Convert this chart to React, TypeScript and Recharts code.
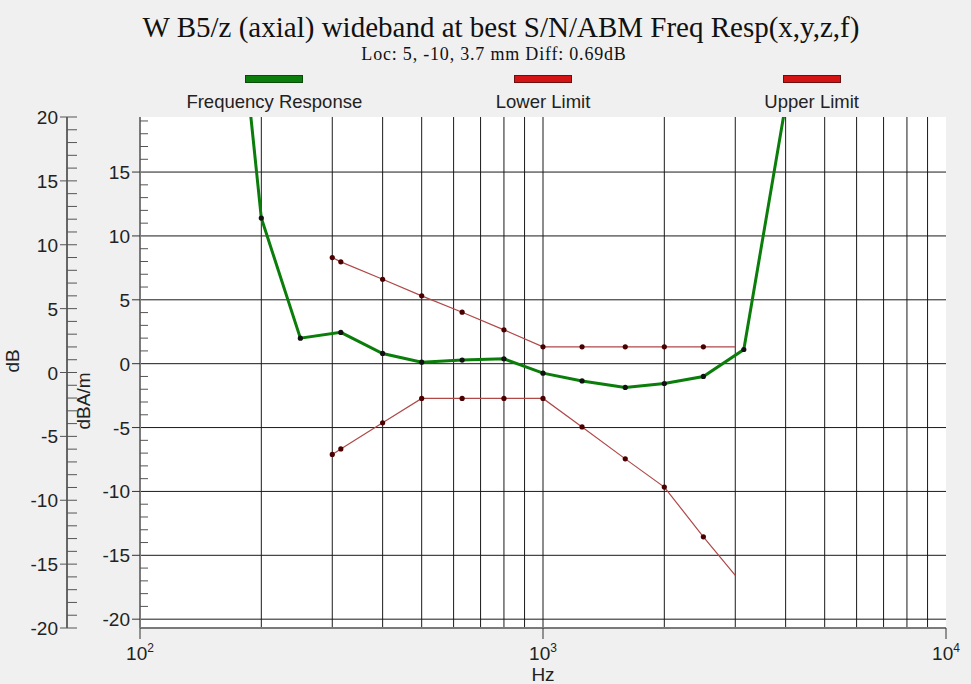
import {
  CartesianGrid,
  Line,
  LineChart,
  ReferenceArea,
  XAxis,
  YAxis,
} from "recharts";

// measured response (1/3 octave), dBA/m
const responseHz = [160, 200, 250, 315, 400, 500, 630, 800, 1000, 1250, 1600, 2000, 2500, 3150, 4000];
const responseDb = [41, 11.4, 2.0, 2.45, 0.8, 0.12, 0.28, 0.38, -0.74, -1.35, -1.86, -1.55, -1.0, 1.11, 20.3];

// tolerance mask
const limitHz = [300, 315, 400, 500, 630, 800, 1000, 1250, 1600, 2000, 2500, 3000];
const lowerLimitDb = [-7.1, -6.67, -4.63, -2.72, -2.72, -2.72, -2.72, -4.95, -7.45, -9.66, -13.55, -16.57];
const upperLimitDb = [8.31, 7.97, 6.61, 5.31, 4.03, 2.65, 1.32, 1.32, 1.32, 1.32, 1.32, 1.32];

const seriesNames = ["Frequency Response", "Lower Limit", "Upper Limit"];
const seriesSwatch = ["#0b7d0b", "#d41414", "#d41414"];
const swatchBorder = ["#0a4a0a", "#6a1010", "#6a1010"];

const decadeTicks = [100, 1000, 10000];
const decadeExp = ["2", "3", "4"];
const gridHz = [200, 300, 400, 500, 600, 700, 800, 900, 1000, 2000, 3000, 4000, 5000, 6000, 7000, 8000, 9000];

const outerMajor = [-20, -15, -10, -5, 0, 5, 10, 15, 20];
const outerTicks = [
  -20, -19, -18, -17, -16, -15, -14, -13, -12, -11, -10, -9, -8, -7, -6, -5, -4, -3, -2, -1,
  0, 1, 2, 3, 4, 5, 6, 7, 8, 9, 10, 11, 12, 13, 14, 15, 16, 17, 18, 19, 20,
];
const innerMajor = [-20, -15, -10, -5, 0, 5, 10, 15];
const innerTicks = [
  -20, -19, -18, -17, -16, -15, -14, -13, -12, -11, -10, -9, -8, -7, -6, -5, -4, -3, -2, -1,
  0, 1, 2, 3, 4, 5, 6, 7, 8, 9, 10, 11, 12, 13, 14, 15, 16, 17, 18, 19,
];
const diffDb = 0.69;

const responseData = responseHz.map((f, i) => ({ f, v: responseDb[i] }));
const lowerData = limitHz.map((f, i) => ({ f, v: lowerLimitDb[i] }));
const upperData = limitHz.map((f, i) => ({ f, v: upperLimitDb[i] }));

const W = 971;
const H = 684;
const PLOT_L = 140;
const PLOT_R = 946;
const PLOT_T = 117;
const PLOT_B = 628;

const sans = "'Liberation Sans', Arial, sans-serif";
const serif = "'Liberation Serif', 'Times New Roman', serif";
const axisGray = "#7a7a7a";
const tickFont = 19;

function OuterTick(props: any) {
  const { x, y, payload } = props;
  const major = outerMajor.includes(payload.value);
  return (
    <g>
      <line x1={major ? x - 7 : x} x2={x + 10} y1={y} y2={y} stroke="#555" strokeWidth={1} />
      {major && (
        <text x={x - 9} y={y} dy={7} textAnchor="end" fontFamily={sans} fontSize={tickFont} fill="#222">
          {payload.value}
        </text>
      )}
    </g>
  );
}

function InnerTick(props: any) {
  const { x, y, payload } = props;
  const major = innerMajor.includes(payload.value);
  return (
    <g>
      {major ? (
        <line x1={x - 8} x2={x} y1={y} y2={y} stroke="#333" strokeWidth={1} />
      ) : (
        <line x1={x} x2={x + 8} y1={y} y2={y} stroke="#555" strokeWidth={1} />
      )}
      {major && (
        <text x={x - 10} y={y} dy={7} textAnchor="end" fontFamily={sans} fontSize={tickFont} fill="#222">
          {payload.value}
        </text>
      )}
    </g>
  );
}

function HzTick(props: any) {
  const { x, y, payload, index } = props;
  return (
    <g>
      <line x1={x} x2={x} y1={y} y2={y + 11} stroke="#333" strokeWidth={1} />
      <text x={x} y={y + 32} textAnchor="middle" fontFamily={sans} fontSize={tickFont} fill="#222">
        10
        <tspan dy={-8} fontSize={12}>
          {decadeExp[index] ?? ""}
        </tspan>
      </text>
    </g>
  );
}

const pointDot = (color: string, skipLast: boolean, count: number) => (p: any) => {
  if (skipLast && p.index === count - 1) return <g key={`d${p.index}`} />;
  return <circle key={`d${p.index}`} cx={p.cx} cy={p.cy} r={2.6} fill={color} stroke="none" />;
};

export default function App() {
  const plotW = PLOT_R - PLOT_L;
  return (
    <div
      style={{
        position: "fixed",
        left: 0,
        top: 0,
        width: W,
        height: H,
        background: "#f0f0f0",
        overflow: "hidden",
      }}
    >
      {/* Title */}
      <div
        style={{
          position: "absolute",
          left: 0,
          width: 1002,
          top: 11,
          textAlign: "center",
          fontFamily: serif,
          fontSize: 29,
          color: "#111",
          whiteSpace: "nowrap",
        }}
      >
        W B5/z (axial) wideband at best S/N/ABM Freq Resp(x,y,z,f)
      </div>
      <div
        style={{
          position: "absolute",
          left: 0,
          width: 988,
          top: 44,
          textAlign: "center",
          fontFamily: serif,
          fontSize: 18,
          letterSpacing: 0.8,
          color: "#111",
          whiteSpace: "nowrap",
        }}
      >
        Loc: 5, -10, 3.7 mm Diff: 0.69dB
      </div>

      {/* Legend */}
      {seriesNames.map((name, i) => {
        const cx = PLOT_L + ((i + 0.5) * plotW) / 3;
        return (
          <div key={name}>
            <div
              style={{
                position: "absolute",
                left: cx - 29,
                top: 75,
                width: 56,
                height: 6,
                background: seriesSwatch[i],
                border: `1px solid ${swatchBorder[i]}`,
              }}
            />
            <div
              style={{
                position: "absolute",
                left: cx - 150,
                width: 300,
                top: 91,
                textAlign: "center",
                fontFamily: sans,
                fontSize: 18.5,
                color: "#222",
              }}
            >
              {name}
            </div>
          </div>
        );
      })}

      <div style={{ position: "absolute", left: 0, top: 0 }}>
        <LineChart
          width={W}
          height={H}
          margin={{ top: PLOT_T, right: W - PLOT_R, bottom: 0, left: 0 }}
        >
          <CartesianGrid
            yAxisId="in"
            fill="#ffffff"
            stroke="#1a1a1a"
            strokeWidth={1}
            verticalValues={gridHz}
            horizontalValues={innerMajor}
          />
          <XAxis
            dataKey="f"
            type="number"
            scale="log"
            domain={[100, 10000]}
            allowDataOverflow
            ticks={decadeTicks}
            interval={0}
            height={H - PLOT_B}
            tickSize={0}
            tickMargin={0}
            tick={<HzTick />}
            axisLine={{ stroke: axisGray, strokeWidth: 2 }}
            label={{
              value: "Hz",
              position: "insideBottom",
              offset: 3,
              fontFamily: sans,
              fontSize: tickFont,
              fill: "#222",
            }}
          />
          <YAxis
            yAxisId="in"
            type="number"
            domain={[-20 - diffDb, 20 - diffDb]}
            allowDataOverflow
            ticks={innerTicks}
            interval={0}
            width={PLOT_L - 67}
            tickSize={0}
            tickMargin={0}
            tick={<InnerTick />}
            axisLine={{ stroke: axisGray, strokeWidth: 2 }}
            label={{
              value: "dBA/m",
              angle: -90,
              position: "insideRight",
              offset: 57,
              fontFamily: sans,
              fontSize: tickFont,
              fill: "#222",
            }}
          />
          <YAxis
            yAxisId="out"
            type="number"
            domain={[-20, 20]}
            allowDataOverflow
            ticks={outerTicks}
            interval={0}
            width={67}
            tickSize={0}
            tickMargin={0}
            tick={<OuterTick />}
            axisLine={{ stroke: "#666", strokeWidth: 2 }}
            label={{
              value: "dB",
              angle: -90,
              position: "insideLeft",
              offset: 12,
              fontFamily: sans,
              fontSize: tickFont,
              fill: "#222",
            }}
          />
          <ReferenceArea yAxisId="in" fill="none" stroke={axisGray} strokeWidth={2} />
          <Line
            yAxisId="in"
            data={upperData}
            dataKey="v"
            name="Upper Limit"
            stroke="#b04848"
            strokeWidth={1.2}
            dot={pointDot("#4a0000", true, upperData.length)}
            isAnimationActive={false}
          />
          <Line
            yAxisId="in"
            data={lowerData}
            dataKey="v"
            name="Lower Limit"
            stroke="#b04848"
            strokeWidth={1.2}
            dot={pointDot("#4a0000", true, lowerData.length)}
            isAnimationActive={false}
          />
          <Line
            yAxisId="in"
            data={responseData}
            dataKey="v"
            name="Frequency Response"
            stroke="#0b7d0b"
            strokeWidth={3}
            dot={pointDot("#111", false, responseData.length)}
            isAnimationActive={false}
          />
        </LineChart>
      </div>
    </div>
  );
}
